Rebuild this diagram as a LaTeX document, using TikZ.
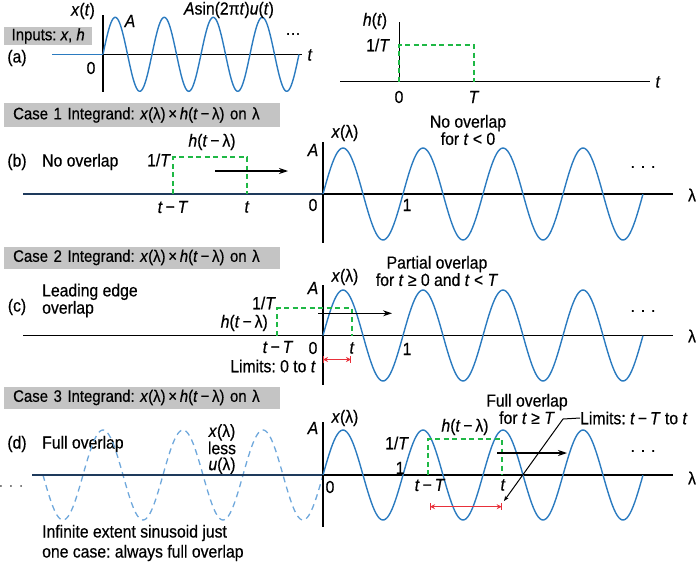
\documentclass[tikz,border=0pt]{standalone}
\usepackage{fontspec}
\setmainfont{Liberation Sans}[FakeStretch=0.9,FakeBold=0.5]
\usetikzlibrary{arrows.meta}
\definecolor{sinblue}{HTML}{2B7BC0}
\definecolor{dashblue}{HTML}{6FA8DC}
\definecolor{boxgray}{HTML}{C4C4C4}
\definecolor{dgreen}{HTML}{1FB845}
\definecolor{lred}{HTML}{E8303A}
\definecolor{navyline}{HTML}{1E3A5C}
\newcommand\mi[1]{\textit{#1}}
\newcommand\tml{\mi{t}\,−\,λ}
\newcommand\tmT{\mi{t}\,−\,\mi{T}}
\begin{document}
\frenchspacing
\begin{tikzpicture}[x=1pt,y=-1pt,
  every node/.style={inner sep=0pt},
  font=\fontsize{17.5}{16}\selectfont,
  axis/.style={line width=1.1pt, black},
  sine/.style={line width=1.4pt, sinblue},
  dsine/.style={line width=1.3pt, dashblue, dash pattern=on 6pt off 4.5pt},
  pulse/.style={line width=1.8pt, dgreen, dash pattern=on 5pt off 3.5pt},
  mover/.style={line width=1.1pt, black, -{Stealth[length=9pt,width=6pt]}},
  limitbar/.style={line width=1.1pt, lred, {Bar[width=7pt]}-{Bar[width=7pt]}},
  limittip/.style={line width=1.1pt, lred, {Stealth[length=5pt,width=5pt]}-{Stealth[length=5pt,width=5pt]}},
  leader/.style={line width=1pt, black, -{Stealth[length=5pt,width=4pt]}},
  graybox/.style={fill=boxgray, anchor=west, minimum height=22pt, inner xsep=9pt, align=left, text width=258pt, font=\fontsize{16.6}{16}\selectfont}
]
\useasboundingbox (0,0) rectangle (698,562);

% ---------------- (a) inputs ----------------
\node[fill=boxgray, anchor=west, minimum width=88pt, minimum height=18pt, font=\fontsize{16.6}{16}\selectfont] (boxa) at (4,36) {Inputs: \mi{x}, \mi{h}};
\node (la) at (17,58) {(a)};
\coordinate (aL) at (52,54.3);
\coordinate (a0) at (103,54.3);
\coordinate (aR) at (302,54.3);
\draw[axis] (aL) -- (aR);
\draw[axis] (103,15) -- (103,92);
\draw[sine] (aL) -- (a0);
\draw[sine] plot[domain=0:4,samples=200] ({103+49*\x},{54.3-37*sin(360*\x)});
\node (xt) at (83,11) {\mi{x}(\mi{t})};
\node (Aa) at (130,21) {\mi{A}};
\node (fa) at (229,10) {\mi{A}sin(2π\mi{t})\mi{u}(\mi{t})};
\node (dotsa) at (293,34) {…};
\node (ta) at (310,55) {\mi{t}};
\node (za) at (91,68) {0};

% h(t)
\draw[axis] (340,81.7) -- (650,81.7);
\draw[axis] (399.3,22) -- (399.3,82);
\draw[pulse] (399.3,81.7) -- (399.3,45) -- (474,45) -- (474,81.7);
\node (ht) at (375,21) {\mi{h}(\mi{t})};
\node (hT) at (378,45) {1/\mi{T}};
\node (h0) at (399,97) {0};
\node (hTT) at (474,97) {\mi{T}};
\node (th) at (658,82) {\mi{t}};

% ---------------- (b) case 1 ----------------
\node[graybox, minimum height=24pt] (box1) at (4,115) {\mbox{Case 1 Integrand: \mi{x}(λ)\,×\,\mi{h}(\tml) on λ}};
\node (lb) at (17,162) {(b)};
\node[anchor=west] (nob) at (42,162) {No overlap};
\draw[axis] (23,194) -- (673,194);
\draw[line width=1.3pt, navyline] (23,194) -- (323,194);
\draw[axis] (323,142) -- (323,243);
\draw[sine] plot[domain=0:4,samples=200] ({323+80*\x},{194-46*sin(360*\x)});
\draw[pulse] (173.3,194) |- (247.3,157.3) -- (247.3,194);
\coordinate (mb1) at (215,171);
\coordinate (mb2) at (288,171);
\draw[mover] (mb1) -- (mb2);
\node[anchor=east] (oTb) at (171,160) {1/\mi{T}};
\node (hb) at (212,142) {\mi{h}(\tml)};
\node (tTb) at (173,207) {\tmT};
\node (tb) at (247,207) {\mi{t}};
\node (xb) at (345,133) {\mi{x}(λ)};
\node (Ab) at (313,150) {\mi{A}};
\node (zb) at (313,205) {0};
\node (ob) at (407,205) {1};
\node (db) at (643,167) {.\,\,.\,\,.};
\node (lamb) at (692,195) {λ};
\node[align=center] (nb) at (468,130) {No overlap\\for \mi{t} < 0};

% ---------------- (c) case 2 ----------------
\node[graybox] (box2) at (4,257.5) {\mbox{Case 2 Integrand: \mi{x}(λ)\,×\,\mi{h}(\tml) on λ}};
\node (lc) at (17,307) {(c)};
\node[anchor=west, align=left] (lec) at (42,300.5) {Leading edge\\overlap};
\draw[axis] (23,335.5) -- (673,335.5);
\draw[axis] (323,285) -- (323,385);
\draw[sine] plot[domain=0:4,samples=200] ({323+80*\x},{335.5-45.5*sin(360*\x)});
\draw[pulse] (277.3,335.5) |- (351.7,308.3) -- (351.7,335.5);
\coordinate (mc1) at (318,313.3);
\coordinate (mc2) at (392,313.3);
\draw[mover] (mc1) -- (mc2);
\coordinate (rc1) at (323,359.5);
\coordinate (rc2) at (351,359.5);
\draw[limitbar] (rc1) -- (rc2);
\draw[limittip] (rc1) -- (rc2);
\node[anchor=east] (oTc) at (276,303) {1/\mi{T}};
\node[anchor=east] (hc) at (268,323) {\mi{h}(\tml)};
\node (tTc) at (278,347) {\tmT};
\node (zc) at (313,348) {0};
\node (tc) at (352,348) {\mi{t}};
\node (oc) at (407,349) {1};
\node (limc) at (273,366) {Limits: 0 to \mi{t}};
\node (xc) at (345,277) {\mi{x}(λ)};
\node (Ac) at (313,288) {\mi{A}};
\node (dc) at (643,311) {.\,\,.\,\,.};
\node (lamc) at (692,336) {λ};
\node[align=center] (nc) at (437,271) {Partial overlap\\for \mi{t} ≥ 0 and \mi{t} < \mi{T}};

% ---------------- (d) case 3 ----------------
\node[graybox] (box3) at (4,397.5) {\mbox{Case 3 Integrand: \mi{x}(λ)\,×\,\mi{h}(\tml) on λ}};
\node (ld) at (17,444) {(d)};
\node[anchor=west] (fod) at (42,444) {Full overlap};
\node[text=gray] (dotl) at (11,486) {.\,\,.\,\,.};
\draw[dsine] plot[domain=-3.5:0,samples=200] ({323+80*\x},{475-45*sin(360*\x)});
\draw[axis] (32,475) -- (673,475);
\draw[line width=1.3pt, navyline] (32,475) -- (323,475);
\draw[axis] (323,422) -- (323,527);
\draw[sine] plot[domain=0:4,samples=200] ({323+80*\x},{475-45*sin(360*\x)});
\draw[pulse] (428.3,475) |- (502.3,439.3) -- (502.3,475);
\coordinate (md1) at (497,453);
\coordinate (md2) at (567,453);
\draw[mover] (md1) -- (md2);
\coordinate (rd1) at (430,506.7);
\coordinate (rd2) at (501.7,506.7);
\draw[limitbar] (rd1) -- (rd2);
\draw[limittip] (rd1) -- (rd2);
\node[align=center] (xless) at (222,449) {\mi{x}(λ)\\less\\\mi{u}(λ)};
\node[anchor=west, align=left, font=\fontsize{17.5}{20}\selectfont] (inf) at (42,543) {Infinite extent sinusoid just\\one case: always full overlap};
\node (xd) at (345,418) {\mi{x}(λ)};
\node (Ad) at (313,428) {\mi{A}};
\node (zd) at (330,487) {0};
\node (oTd) at (397,443) {1/\mi{T}};
\node (od) at (400,468) {1};
\node (hd) at (465,427) {\mi{h}(\tml)};
\node (tTd) at (430,485) {\tmT};
\node (td) at (503,485) {\mi{t}};
\node (dd) at (643,451) {.\,\,.\,\,.};
\node (lamd) at (692,478) {λ};
\node[align=center] (nd) at (527,409) {Full overlap\\for \mi{t} ≥ \mi{T}};
\node[anchor=west] (limd) at (580,418) {Limits: \tmT\ to \mi{t}};
\coordinate (bend) at (563,419);
\coordinate (tipd) at (504,501);
\draw[leader] (limd.west) -- (bend) -- (tipd);
\end{tikzpicture}
\end{document}
